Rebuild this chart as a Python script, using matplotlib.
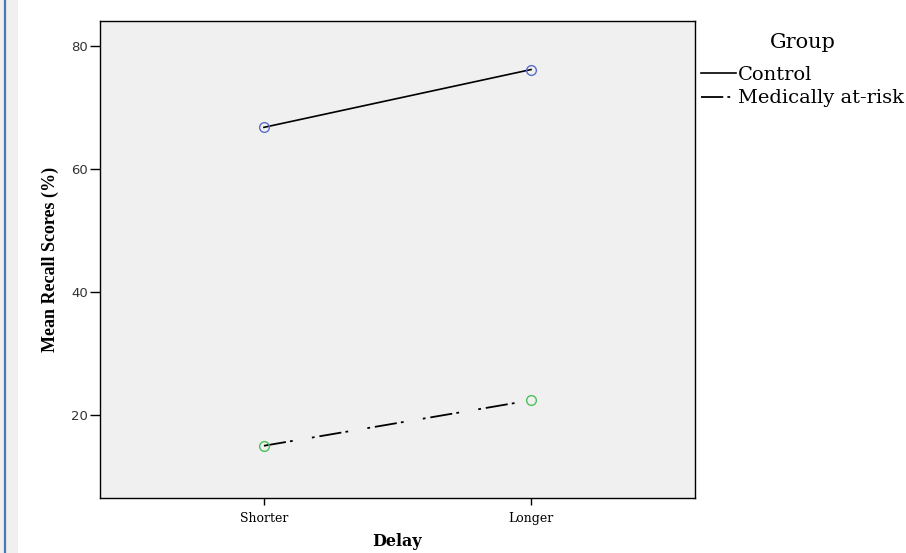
import matplotlib
matplotlib.use('Agg')
import matplotlib.pyplot as plt
from matplotlib.patches import Rectangle
from matplotlib.lines import Line2D

# data
delay = ['Shorter', 'Longer']
groups = ['Control', 'Medically at-risk']
control = [66.8, 76.2]
at_risk = [15.0, 22.4]
yticks = [20, 40, 60, 80]

W, H = 906, 553
plt.rcParams['lines.scale_dashes'] = False
fig = plt.figure(figsize=(W / 100, H / 100), dpi=100)

# the left strip of the page (gray margin with a blue rule)
fig.patches.append(Rectangle((0, 0), 18 / W, 1, transform=fig.transFigure,
                             facecolor='#f0f0f0', edgecolor='none', zorder=0))
fig.add_artist(Line2D([5 / W, 5 / W], [0, 1], transform=fig.transFigure,
                      color='#4a78b5', lw=1.6))

ax = fig.add_axes([100 / W, 1 - 498 / H, 595 / W, 477 / H])
ax.set_facecolor('#f0f0f0')
for s in ax.spines.values():
    s.set_color('black')
    s.set_linewidth(1.0)

x = list(range(len(delay)))
ax.plot(x, control, color='black', lw=1.2, label=groups[0], zorder=2)
ax.plot(x, control, ls='none', marker='o', ms=7, mfc='none', mec='#5a6ec8', mew=1.0, zorder=3)
ax.plot(x, at_risk, color='black', lw=1.3, dashes=(16, 3, 2, 14, 2, 3.5),
        label=groups[1], zorder=2)
ax.plot(x, at_risk, ls='none', marker='o', ms=7, mfc='none', mec='#4cc05a', mew=1.0, zorder=3)

ax.set_xlim(-0.614, 1.614)
ax.set_ylim(6.5, 84.1)
ax.set_xticks(x)
ax.set_xticklabels(delay, fontsize=9, family='DejaVu Serif')
ax.set_yticks(yticks)
ax.set_yticklabels([str(v) for v in yticks], fontsize=9.5, family='DejaVu Sans', color='#333333')
ax.tick_params(axis='y', length=7.5, width=1, pad=1)
ax.tick_params(axis='x', length=5, width=1, pad=5)

ax.set_xlabel('Delay', fontsize=11.5, fontweight='bold', family='DejaVu Serif', labelpad=6)
ax.set_ylabel('Mean Recall Scores (%)', fontsize=13, fontweight='bold', family='Liberation Serif', labelpad=9)

leg = ax.legend(loc='upper left', bbox_to_anchor=(0.99, 1.0), frameon=False,
                title='Group', prop={'family': 'DejaVu Serif', 'size': 14},
                handlelength=1.8, handletextpad=0.12, labelspacing=0.3, borderaxespad=0.2)
leg.get_title().set_fontfamily('DejaVu Serif')
leg.get_title().set_fontsize(15)
leg._legend_box.sep = 10

fig.savefig('out.png', dpi=100)
